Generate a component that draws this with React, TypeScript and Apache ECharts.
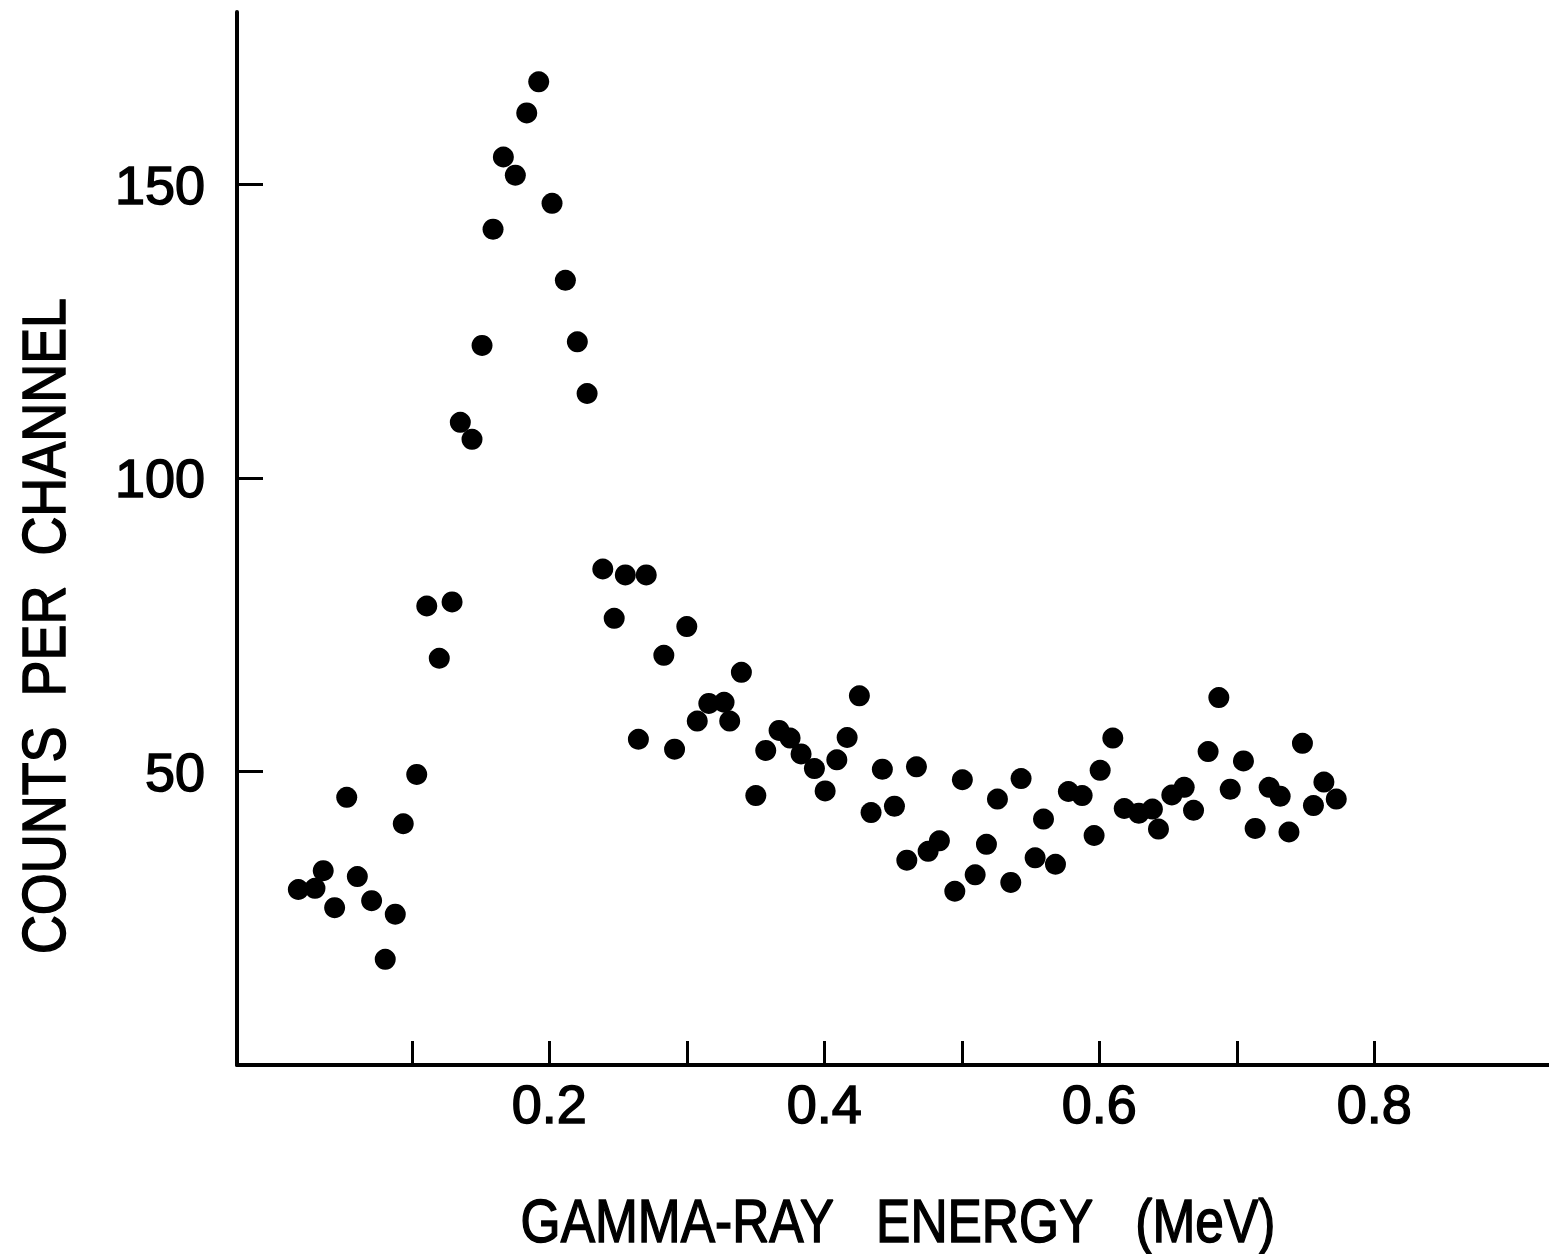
import React, { useEffect, useRef } from "react";
import * as echarts from "echarts";

// Gamma-ray energy (MeV) of each channel point
const energy = [
  0.0175, 0.0296, 0.0356, 0.0439, 0.0527, 0.0604, 0.0708, 0.0807, 0.088, 0.0938,
  0.1036, 0.1109, 0.12, 0.1293, 0.1353, 0.1438, 0.1511, 0.1591, 0.1666, 0.1753,
  0.1836, 0.1923, 0.202, 0.2117, 0.2204, 0.2275, 0.2389, 0.2472, 0.2553, 0.2648,
  0.2705, 0.2833, 0.2911, 0.3, 0.3076, 0.316, 0.3271, 0.3312, 0.3397, 0.3502,
  0.3574, 0.3671, 0.3751, 0.3831, 0.3928, 0.4006, 0.4091, 0.4166, 0.4255, 0.434,
  0.4422, 0.451, 0.46, 0.467, 0.4755, 0.4837, 0.4949, 0.5004, 0.5097, 0.5179,
  0.5259, 0.5356, 0.5431, 0.5533, 0.5594, 0.5681, 0.5775, 0.5875, 0.5962, 0.6006,
  0.6098, 0.6181, 0.6287, 0.6386, 0.643, 0.6527, 0.6617, 0.6685, 0.6791, 0.6869,
  0.6952, 0.7048, 0.7133, 0.7235, 0.7315, 0.7379, 0.7477, 0.7557, 0.7633, 0.7723,
];

// Counts per channel
const counts = [
  29.9, 30.1, 33.1, 26.8, 45.6, 32.1, 28.0, 18.0, 25.7, 41.1,
  49.5, 78.2, 69.3, 78.9, 109.5, 106.6, 122.6, 142.4, 154.7, 151.6,
  162.2, 167.5, 146.8, 133.7, 123.2, 114.4, 84.5, 76.1, 83.5, 55.5,
  83.5, 69.8, 53.8, 74.7, 58.6, 61.6, 61.8, 58.6, 66.9, 45.9,
  53.6, 57.0, 55.7, 53.0, 50.5, 46.7, 52.0, 55.8, 62.9, 43.0,
  50.4, 44.1, 34.9, 50.8, 36.4, 38.2, 29.6, 48.6, 32.4, 37.6,
  45.3, 31.1, 48.8, 35.3, 41.9, 34.2, 46.6, 45.9, 39.1, 50.2,
  55.7, 43.7, 42.9, 43.6, 40.2, 46.0, 47.3, 43.4, 53.4, 62.6,
  47.0, 51.8, 40.3, 47.3, 45.8, 39.7, 54.8, 44.2, 48.2, 45.3,
];

const xTickValues = [0.1, 0.2, 0.3, 0.4, 0.5, 0.6, 0.7, 0.8];
const xLabelValues = [0.2, 0.4, 0.6, 0.8];
const yTickValues = [50, 100, 150];

const xTitle = "GAMMA-RAY   ENERGY   (MeV)";
const yTitle = "COUNTS  PER  CHANNEL";

export default function App() {
  const ref = useRef<HTMLDivElement>(null);

  useEffect(() => {
    const chart = echarts.init(ref.current as HTMLDivElement, null, { renderer: "svg" });
    const data = energy.map((e, i) => [e, counts[i]]);
    const font = "'Liberation Sans', Arial, sans-serif";
    chart.setOption({
      animation: false,
      backgroundColor: "#ffffff",
      grid: {
        left: 237,
        right: 0,
        top: 12,
        bottom: 189,
        containLabel: false,
        outerBoundsMode: "none",
      },
      xAxis: {
        type: "value",
        min: -0.0271,
        max: 0.927,
        splitLine: { show: false },
        axisLine: { show: true, onZero: false, lineStyle: { color: "#000", width: 4 } },
        axisTick: {
          show: true,
          inside: true,
          length: 24,
          customValues: xTickValues,
          lineStyle: { color: "#000", width: 3 },
        },
        axisLabel: {
          show: true,
          customValues: xLabelValues,
          formatter: (v: number) => v.toFixed(1),
          fontSize: 54,
          fontFamily: font,
          color: "#000",
          textBorderColor: "#000",
          textBorderWidth: 1.5,
          margin: 12,
        },
      },
      yAxis: {
        type: "value",
        min: 0,
        max: 179.4,
        splitLine: { show: false },
        axisLine: { show: true, onZero: false, lineStyle: { color: "#000", width: 4 } },
        axisTick: {
          show: true,
          inside: true,
          length: 26,
          customValues: yTickValues,
          lineStyle: { color: "#000", width: 3 },
        },
        axisLabel: {
          show: true,
          customValues: yTickValues,
          fontSize: 54,
          fontFamily: font,
          color: "#000",
          textBorderColor: "#000",
          textBorderWidth: 1.5,
          margin: 32,
        },
      },
      graphic: [
        {
          type: "text",
          x: 898,
          y: 1220,
          scaleX: 0.83,
          style: {
            text: xTitle,
            fontSize: 62,
            fontFamily: font,
            fill: "#000",
            stroke: "#000",
            lineWidth: 1.5,
            align: "center",
            verticalAlign: "middle",
          },
        },
        {
          type: "text",
          x: 43,
          y: 626,
          rotation: Math.PI / 2,
          scaleX: 0.87,
          style: {
            text: yTitle,
            fontSize: 62,
            fontFamily: font,
            fill: "#000",
            stroke: "#000",
            lineWidth: 1.5,
            align: "center",
            verticalAlign: "middle",
          },
        },
      ],
      series: [
        {
          type: "scatter",
          data,
          symbol: "circle",
          symbolSize: 21,
          itemStyle: { color: "#000", opacity: 1 },
        },
      ],
    });
    return () => chart.dispose();
  }, []);

  return (
    <div
      ref={ref}
      style={{ position: "absolute", left: 0, top: 0, width: 1549, height: 1254, background: "#fff" }}
    />
  );
}
